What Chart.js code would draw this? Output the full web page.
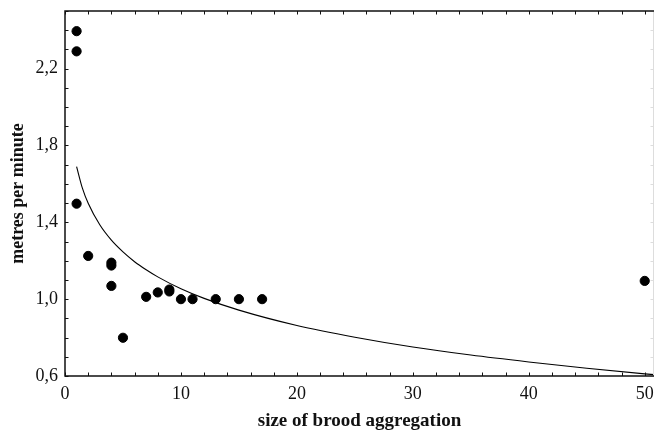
<!DOCTYPE html>
<html>
<head>
<meta charset="utf-8">
<script src="https://cdn.jsdelivr.net/npm/chart.js@4.4.1/dist/chart.umd.min.js"></script>
<style>
    html, body { margin: 0; padding: 0; background: #fff; }
    #wrap { width: 655px; height: 434px; }
</style>
</head>
<body>
<div id="wrap"><canvas id="broodChart"></canvas></div>
<script>
// observed broods: size of aggregation vs. speed
var broodSize = [1, 1, 1, 2, 4, 4, 4, 5, 7, 8, 9, 9, 10, 11, 13, 15, 17, 50];
var metresPerMinute = [2.395, 2.29, 1.497, 1.225, 1.19, 1.175, 1.069, 0.799, 1.012, 1.035, 1.05, 1.04, 1.0, 1.0, 1.0, 1.0, 1.0, 1.095];

// fitted curve
var curveX = [1, 1.5, 2, 3, 4, 5, 6, 7, 8, 10, 12, 15, 20, 25, 30, 35, 40, 45, 50, 50.8];
var curveY = [1.69, 1.578, 1.499, 1.387, 1.307, 1.246, 1.195, 1.153, 1.116, 1.054, 1.004, 0.943, 0.863, 0.802, 0.751, 0.709, 0.673, 0.64, 0.611, 0.607];

var yMajorTicks = [0.6, 1.0, 1.4, 1.8, 2.2];
var xMajorTicks = [0, 10, 20, 30, 40, 50];

function toPoints(xs, ys) {
    return xs.map(function (x, i) { return { x: x, y: ys[i] }; });
}

function isMajor(list, value) {
    return list.some(function (m) { return Math.abs(m - value) < 1e-6; });
}

function fmtComma(value) {
    return value.toFixed(1).replace('.', ',');
}

// frame and inward tick marks
var frameTicks = {
    id: 'frameTicks',
    afterDraw: function (chart) {
        var ctx = chart.ctx;
        var a = chart.chartArea;
        var xs = chart.scales.x;
        var ys = chart.scales.y;
        var len = 3.5;
        ctx.save();
        ctx.strokeStyle = '#111';
        ctx.lineWidth = 1;
        ctx.beginPath();
        xs.ticks.forEach(function (t) {
            var px = Math.round(xs.getPixelForValue(t.value)) + 0.5;
            ctx.moveTo(px, a.bottom);
            ctx.lineTo(px, a.bottom - len);
            ctx.moveTo(px, a.top);
            ctx.lineTo(px, a.top + len);
        });
        ys.ticks.forEach(function (t) {
            var py = Math.round(ys.getPixelForValue(t.value)) + 0.5;
            ctx.moveTo(a.left, py);
            ctx.lineTo(a.left + len, py);
        });
        ctx.stroke();

        ctx.strokeStyle = '#ddd';
        ctx.beginPath();
        ys.ticks.forEach(function (t) {
            var py = Math.round(ys.getPixelForValue(t.value)) + 0.5;
            ctx.moveTo(a.right, py);
            ctx.lineTo(a.right - len, py);
        });
        ctx.moveTo(a.right - 0.5, a.top);
        ctx.lineTo(a.right - 0.5, a.bottom);
        ctx.stroke();

        ctx.strokeStyle = '#111';
        ctx.lineWidth = 1.5;
        ctx.beginPath();
        ctx.moveTo(a.right, a.top);
        ctx.lineTo(a.left, a.top);
        ctx.lineTo(a.left, a.bottom);
        ctx.lineTo(a.right, a.bottom);
        ctx.stroke();
        ctx.restore();
    }
};

new Chart(document.getElementById('broodChart').getContext('2d'), {
    type: 'scatter',
    data: {
        datasets: [
            {
                label: 'observed',
                data: toPoints(broodSize, metresPerMinute),
                backgroundColor: '#000',
                borderColor: '#000',
                pointRadius: 4.6,
                pointHoverRadius: 4.6,
                order: 1
            },
            {
                label: 'fit',
                data: toPoints(curveX, curveY),
                showLine: true,
                borderColor: '#000',
                borderWidth: 1.1,
                pointRadius: 0,
                cubicInterpolationMode: 'monotone',
                fill: false,
                order: 2
            }
        ]
    },
    options: {
        responsive: true,
        maintainAspectRatio: false,
        animation: false,
        layout: { autoPadding: false, padding: { top: 11, right: 1, left: 0, bottom: 0 } },
        plugins: {
            legend: { display: false },
            tooltip: { enabled: false }
        },
        scales: {
            x: {
                type: 'linear',
                min: 0,
                max: 50.8,
                grid: { display: true, drawOnChartArea: false, drawTicks: false },
                border: { display: false },
                afterFit: function (scale) {
                    scale.height = 58;
                    scale.paddingLeft = 0;
                    scale.paddingRight = 0;
                },
                ticks: {
                    stepSize: 2,
                    includeBounds: false,
                    autoSkip: false,
                    maxRotation: 0,
                    padding: 7,
                    color: '#111',
                    font: { family: "'Liberation Serif', serif", size: 18 },
                    callback: function (value) {
                        return isMajor(xMajorTicks, value) ? String(value) : '';
                    }
                },
                title: {
                    display: true,
                    text: 'size of brood aggregation',
                    color: '#111',
                    padding: { top: 0, bottom: 2 },
                    font: { family: "'Liberation Serif', serif", size: 19, weight: 'bold' }
                }
            },
            y: {
                type: 'linear',
                min: 0.6,
                max: 2.5,
                grid: { display: true, drawOnChartArea: false, drawTicks: false },
                border: { display: false },
                afterFit: function (scale) {
                    scale.width = 65;
                    scale.paddingTop = 0;
                    scale.paddingBottom = 0;
                },
                ticks: {
                    stepSize: 0.1,
                    autoSkip: false,
                    padding: 7,
                    color: '#111',
                    font: { family: "'Liberation Serif', serif", size: 18 },
                    callback: function (value) {
                        return isMajor(yMajorTicks, value) ? fmtComma(value) : '';
                    }
                },
                title: {
                    display: true,
                    text: 'metres per minute',
                    color: '#111',
                    padding: { top: 8, bottom: 0 },
                    font: { family: "'Liberation Serif', serif", size: 18, weight: 'bold' }
                }
            }
        }
    },
    plugins: [frameTicks]
});
</script>
</body>
</html>
